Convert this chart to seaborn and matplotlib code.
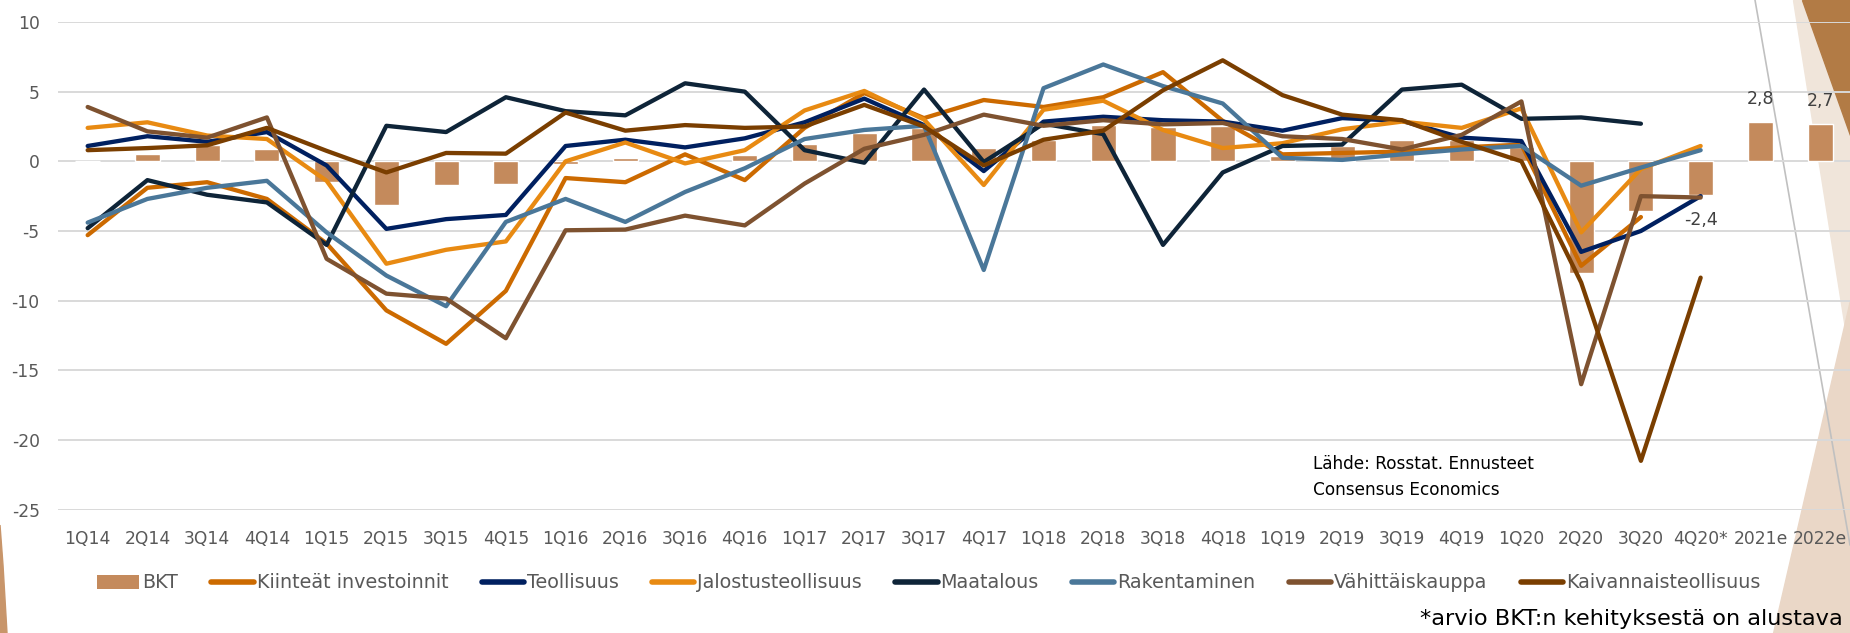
import numpy as np
import pandas as pd
import matplotlib.pyplot as plt
import seaborn as sns
from matplotlib.patches import Polygon, Patch
from matplotlib.lines import Line2D

# quarters on the x axis
quarters = ['1Q14', '2Q14', '3Q14', '4Q14', '1Q15', '2Q15', '3Q15', '4Q15',
            '1Q16', '2Q16', '3Q16', '4Q16', '1Q17', '2Q17', '3Q17', '4Q17',
            '1Q18', '2Q18', '3Q18', '4Q18', '1Q19', '2Q19', '3Q19', '4Q19',
            '1Q20', '2Q20', '3Q20', '4Q20*', '2021e', '2022e']
nan = np.nan

bkt = [0.0, 0.55, 1.2, 0.87, -1.5, -3.1, -1.7, -1.6, -0.17, 0.25, 0.1, 0.45,
       1.25, 2.0, 2.4, 0.95, 1.55, 2.6, 2.45, 2.5, 0.4, 1.1, 1.5, 1.5,
       1.0, -8.0, -3.55, -2.4, 2.8, 2.7]
kiinteat = [-5.3, -1.9, -1.5, -2.7, -5.9, -10.7, -13.1, -9.3, -1.2, -1.5, 0.5, -1.35,
            2.4, 4.9, 3.1, 4.4, 3.9, 4.6, 6.4, 2.9, 0.5, 0.6, 0.7, 1.0,
            1.2, -7.5, -4.0, nan, nan, nan]
teollisuus = [1.1, 1.8, 1.4, 2.1, -0.3, -4.85, -4.15, -3.85, 1.1, 1.55, 1.0, 1.65,
              2.8, 4.5, 2.6, -0.7, 2.85, 3.2, 2.95, 2.85, 2.2, 3.1, 2.9, 1.7,
              1.45, -6.5, -5.0, -2.5, nan, nan]
jalostus = [2.4, 2.8, 1.85, 1.6, -1.4, -7.35, -6.35, -5.75, 0.0, 1.35, -0.15, 0.8,
            3.65, 5.05, 3.0, -1.7, 3.7, 4.35, 2.25, 0.95, 1.3, 2.3, 2.85, 2.4,
            3.8, -5.1, -0.55, 1.1, nan, nan]
maatalous = [-4.8, -1.35, -2.4, -2.95, -6.0, 2.55, 2.1, 4.6, 3.6, 3.3, 5.6, 5.0,
             0.8, -0.1, 5.15, -0.05, 2.7, 1.95, -6.0, -0.8, 1.1, 1.2, 5.15, 5.5,
             3.05, 3.15, 2.7, nan, nan, nan]
rakentaminen = [-4.4, -2.7, -1.9, -1.4, -5.1, -8.2, -10.4, -4.35, -2.7, -4.35, -2.2, -0.5,
                1.6, 2.25, 2.55, -7.8, 5.25, 6.95, 5.4, 4.15, 0.25, 0.1, 0.5, 0.85,
                1.1, -1.75, -0.45, 0.8, nan, nan]
vahittais = [3.9, 2.15, 1.7, 3.15, -7.0, -9.5, -9.85, -12.7, -4.95, -4.9, -3.9, -4.6,
             -1.6, 0.9, 1.9, 3.35, 2.55, 2.95, 2.65, 2.75, 1.8, 1.6, 0.85, 1.9,
             4.3, -16.0, -2.5, -2.6, nan, nan]
kaivannais = [0.8, 0.95, 1.15, 2.4, 0.75, -0.8, 0.6, 0.55, 3.5, 2.2, 2.6, 2.4,
              2.5, 4.05, 2.5, -0.3, 1.55, 2.2, 5.1, 7.25, 4.75, 3.35, 2.95, 1.4,
              0.0, -8.7, -21.5, -8.35, nan, nan]

series = {
    'Kiinteät investoinnit': kiinteat,
    'Teollisuus': teollisuus,
    'Jalostusteollisuus': jalostus,
    'Maatalous': maatalous,
    'Rakentaminen': rakentaminen,
    'Vähittäiskauppa': vahittais,
    'Kaivannaisteollisuus': kaivannais,
}
colors = {
    'Kiinteät investoinnit': '#CC6A00',
    'Teollisuus': '#002060',
    'Jalostusteollisuus': '#E88A12',
    'Maatalous': '#0E2438',
    'Rakentaminen': '#4A7799',
    'Vähittäiskauppa': '#7E5230',
    'Kaivannaisteollisuus': '#7A3E00',
}
bkt_color = '#C48A5C'

sns.set_theme(style='white')
plt.rcParams['font.family'] = ['DejaVu Sans']
plt.rcParams['axes.unicode_minus'] = False

W, H = 1850, 633
fig = plt.figure(figsize=(W / 100, H / 100), dpi=100)

# slide decorations (pixel coords -> figure fraction), kept behind the chart
def px(pts):
    return [(x / W, 1 - y / H) for x, y in pts]

fig.patches.append(Polygon(px([(1793, 0), (1850, 0), (1850, 360)]), closed=True,
                           transform=fig.transFigure, color='#F0E5DA', zorder=-2))
fig.patches.append(Polygon(px([(1802, 0), (1850, 0), (1850, 135)]), closed=True,
                           transform=fig.transFigure, color='#B27B45', zorder=-2))
fig.patches.append(Polygon(px([(1773, 633), (1850, 633), (1850, 300)]), closed=True,
                           transform=fig.transFigure, color='#EAD7C7', zorder=-2))
fig.patches.append(Polygon(px([(0, 525), (3, 565), (7, 633), (0, 633)]), closed=True,
                           transform=fig.transFigure, color='#C8956A', zorder=-2))
fig.lines.append(Line2D([1755 / W, 1850 / W], [1, 1 - 545 / H], transform=fig.transFigure,
                        color='#C0C0C0', lw=1.2, zorder=-1))

ax = fig.add_axes([57.8 / W, 1 - 509.6 / H, (W - 57.8) / W, (509.6 - 22) / H])
ax.patch.set_alpha(0)

df_bkt = pd.DataFrame({'quarter': quarters, 'value': bkt})
sns.barplot(data=df_bkt, x='quarter', y='value', color=bkt_color, saturation=1,
            width=0.42, ax=ax, zorder=2)

rows = []
for name, vals in series.items():
    for i, v in enumerate(vals):
        rows.append({'x': i, 'value': v, 'series': name})
df_lines = pd.DataFrame(rows).dropna()
sns.lineplot(data=df_lines, x='x', y='value', hue='series', palette=colors,
             hue_order=list(series.keys()), linewidth=3.1, estimator=None, sort=False,
             legend=False, ax=ax, zorder=3)

# data labels on the last bars
for i in [27, 28, 29]:
    v = bkt[i]
    txt = f'{v:.1f}'.replace('.', ',')
    if v < 0:
        ax.annotate(txt, (i, v), xytext=(0, -12), textcoords='offset points',
                    ha='center', va='top', fontsize=12.5, color='#404040', zorder=5)
    else:
        ax.annotate(txt, (i, v), xytext=(0, 10), textcoords='offset points',
                    ha='center', va='bottom', fontsize=12.5, color='#404040', zorder=5)

ax.set_ylim(-25, 10)
ax.set_xlim(-0.5, 29.5)
ax.set_yticks(range(-25, 11, 5))
ax.yaxis.grid(True, color='#D9D9D9', lw=1.4)
ax.set_axisbelow(True)
ax.tick_params(axis='both', length=0, labelsize=12.3, labelcolor='#595959')
ax.tick_params(axis='y', pad=13)
ax.tick_params(axis='x', pad=15)
ax.set_xlabel('')
ax.set_ylabel('')
sns.despine(ax=ax, left=True, bottom=True)

fig.text(1313 / W, 1 - 477 / H, 'Lähde: Rosstat. Ennusteet\nConsensus Economics',
         ha='left', va='center', fontsize=12.2, color='black', linespacing=1.6)
fig.text(1843 / W, 1 - 619 / H, '*arvio BKT:n kehityksestä on alustava',
         ha='right', va='center', fontsize=16.2, color='black')

handles = [Patch(facecolor=bkt_color, edgecolor='none')]
labels = ['BKT']
for name in series:
    handles.append(Line2D([], [], color=colors[name], lw=4, solid_capstyle='round'))
    labels.append(name)
fig.legend(handles, labels, loc='center', bbox_to_anchor=(0.502, 1 - 583 / H), ncol=8,
           frameon=False, fontsize=13.8, handlelength=2.2, handletextpad=0.15,
           columnspacing=1.75, labelcolor='#595959')

fig.savefig('out.png', dpi=100)
